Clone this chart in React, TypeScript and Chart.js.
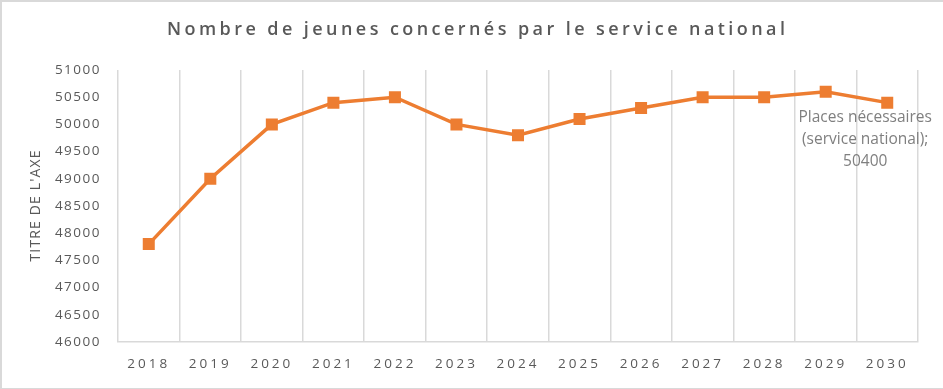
import React, { useEffect, useRef } from 'react';
import { Chart, registerables } from 'chart.js';

Chart.register(...registerables);

// ---- data ----
const CHART_TITLE = 'Nombre de jeunes concernés par le service national';
const Y_AXIS_TITLE = "TITRE DE L'AXE";
const SERIES_NAME_LINES = ['Places nécessaires', '(service national)'];
const YEARS = ['2018', '2019', '2020', '2021', '2022', '2023', '2024', '2025', '2026', '2027', '2028', '2029', '2030'];
const PLACES = [47800, 49000, 50000, 50400, 50500, 50000, 49800, 50100, 50300, 50500, 50500, 50600, 50400];
const Y_MIN = 46000;
const Y_MAX = 51000;
const Y_STEP = 500;

const W = 943;
const H = 389;
const FONT = '"Open Sans", "Noto Sans", sans-serif';
const TEXT = '#595959';
const GRID = '#d9d9d9';
const ORANGE = '#ED7D31';

function wrapLabels(scale: any, spacing: string) {
  if (!scale || scale.__wrapped) return;
  const orig = scale.drawLabels;
  scale.drawLabels = function (area: any) {
    const ctx = this.ctx;
    const prev = ctx.letterSpacing;
    ctx.letterSpacing = spacing;
    orig.call(this, area);
    ctx.letterSpacing = prev;
  };
  scale.__wrapped = true;
}

function drawFitted(ctx: any, text: string, cx: number, y: number, target: number) {
  ctx.letterSpacing = '0px';
  const w = ctx.measureText(text).width;
  const chars = Array.from(text).length;
  const s = (target - w) / (chars - 1);
  ctx.letterSpacing = s + 'px';
  ctx.textAlign = 'left';
  ctx.fillText(text, cx - target / 2, y);
  ctx.letterSpacing = '0px';
}

const decorPlugin = {
  id: 'decor',
  beforeDraw(chart: any) {
    const ctx = chart.ctx;
    ctx.save();
    ctx.fillStyle = '#ffffff';
    ctx.fillRect(0, 0, W, H);
    ctx.fillStyle = GRID;
    ctx.fillRect(0, 0, W, 2);
    ctx.fillRect(0, 0, 2, H);
    ctx.fillRect(0, H - 1, W, 1);
    ctx.restore();
    wrapLabels(chart.scales.x, '3px');
    wrapLabels(chart.scales.y, '1.5px');
  },
  afterDraw(chart: any) {
    const ctx = chart.ctx;
    const area = chart.chartArea;
    ctx.save();
    // title
    ctx.fillStyle = TEXT;
    ctx.font = `600 18px ${FONT}`;
    ctx.textBaseline = 'alphabetic';
    drawFitted(ctx, CHART_TITLE, 476, 35, 618);

    // y axis title
    ctx.save();
    ctx.translate(36, (area.top + area.bottom) / 2);
    ctx.rotate(-Math.PI / 2);
    ctx.font = `normal 14px ${FONT}`;
    ctx.textBaseline = 'middle';
    drawFitted(ctx, Y_AXIS_TITLE, 0, 0, 111);
    ctx.restore();

    // data label on last point
    const meta = chart.getDatasetMeta(0);
    const last = meta.data[meta.data.length - 1];
    const lines = [
      SERIES_NAME_LINES[0],
      SERIES_NAME_LINES[1] + ';',
      String(PLACES[PLACES.length - 1]),
    ];
    ctx.font = `normal 15.5px ${FONT}`;
    ctx.fillStyle = '#7f7f7f';
    ctx.textAlign = 'center';
    ctx.textBaseline = 'alphabetic';
    ctx.letterSpacing = '0px';
    lines.forEach((ln, i) => {
      ctx.fillText(ln, last.x - 22, last.y + 19 + i * 22);
    });
    ctx.restore();
  },
};

export default function App() {
  const ref = useRef<HTMLCanvasElement>(null);
  useEffect(() => {
    const chart = new Chart(ref.current as HTMLCanvasElement, {
      type: 'line',
      data: {
        labels: YEARS,
        datasets: [
          {
            label: SERIES_NAME_LINES.join(' '),
            data: PLACES,
            borderColor: ORANGE,
            backgroundColor: ORANGE,
            borderWidth: 3.5,
            pointStyle: 'rect',
            pointRadius: 8.5,
            pointBorderWidth: 0,
            pointBackgroundColor: ORANGE,
            tension: 0,
            fill: false,
          },
        ],
      },
      options: {
        responsive: false,
        animation: false,
        devicePixelRatio: 1,
        layout: { padding: { top: 70, right: 25, left: 0, bottom: 0 } },
        plugins: {
          legend: { display: false },
          title: { display: false },
          tooltip: { enabled: false },
        },
        scales: {
          x: {
            offset: true,
            grid: { display: true, offset: true, color: GRID, lineWidth: 1.5, drawTicks: false },
            border: { display: true, color: GRID, width: 1.5 },
            ticks: { color: TEXT, font: { family: FONT, size: 13.5 }, padding: 14, maxRotation: 0, autoSkip: false },
            afterFit: (s: any) => { s.height = 47; },
          },
          y: {
            min: Y_MIN,
            max: Y_MAX,
            grid: { display: false, drawTicks: false },
            border: { display: false },
            ticks: {
              stepSize: Y_STEP,
              color: TEXT,
              font: { family: FONT, size: 13.5 },
              padding: 17,
              callback: (v: any) => String(v),
            },
            afterFit: (s: any) => { s.width = 118; },
          },
        },
      },
      plugins: [decorPlugin],
    } as any);
    return () => chart.destroy();
  }, []);
  return (
    <div style={{ position: 'fixed', left: 0, top: 0, width: W, height: H, background: '#fff' }}>
      <canvas ref={ref} width={W} height={H} style={{ display: 'block' }} />
    </div>
  );
}
